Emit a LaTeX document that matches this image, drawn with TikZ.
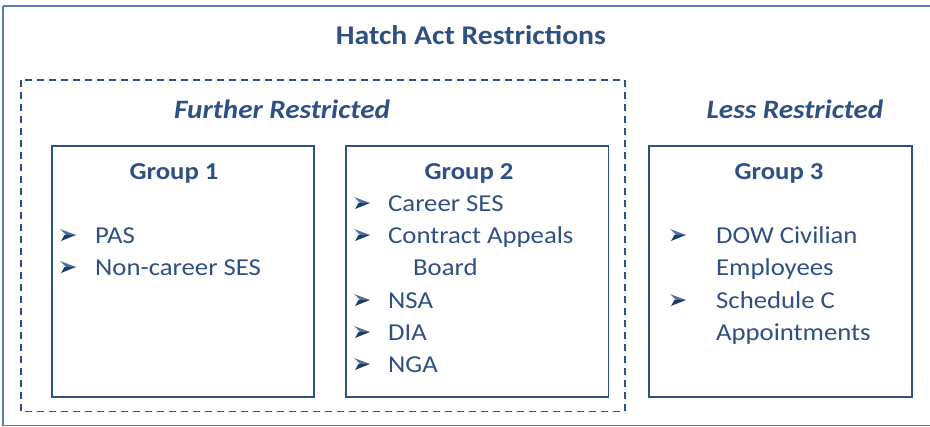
\documentclass[tikz,border=0pt]{standalone}
\usepackage{fontspec}
\setmainfont{Carlito}[FakeStretch=1.1]
\definecolor{navy}{HTML}{2F5082}
\definecolor{lightnavy}{HTML}{5A7BAE}
\definecolor{bltlight}{HTML}{4F73A8}
\definecolor{bltdark}{HTML}{1F3D6B}
\begin{document}
\begin{tikzpicture}[x=1pt,y=-1pt,
  grp/.style={draw=navy,line width=1.6pt,inner sep=0pt},
  item/.style={anchor=base west,inner sep=0pt,text=navy,font=\fontsize{24.3}{28}\selectfont},
  gtitle/.style={anchor=base,inner sep=0pt,text=navy,font=\bfseries\fontsize{24.3}{28}\selectfont},
  sub/.style={anchor=base,inner sep=0pt,text=navy,font=\bfseries\itshape\fontsize{26.5}{30}\selectfont},
  arrowbullet/.pic={
    \fill[bltlight] (0,-15) -- (16,-9) -- (6,-9) -- cycle;
    \fill[bltdark] (6,-9) -- (16,-9) -- (1,-3) -- (4.5,-9) -- cycle;
  }]
\useasboundingbox (0,0) rectangle (930,427);
\clip (0,0) rectangle (930,427);
\draw[lightnavy,line width=1.2pt] (3,6) -- (940,6) (3,6) -- (3,425.5) -- (940,425.5);
\node[anchor=base,inner sep=0pt,text=navy,font=\bfseries\fontsize{27}{32}\selectfont] (title) at (471,44.3) {Hatch Act Restrictions};
\draw[navy,line width=1.4pt,dash pattern=on 7pt off 5pt] (21,80) rectangle (625,411.7);
\node[sub] (further) at (282,118.3) {Further Restricted};
\node[sub] (less) at (795,118.3) {Less Restricted};
\node[grp,minimum width=262,minimum height=251,anchor=north west] (g1) at (51,145) {};
\node[grp,minimum width=262.5,minimum height=251,anchor=north west] (g2) at (345,145) {};
\node[grp,minimum width=263,minimum height=251,anchor=north west] (g3) at (648,145) {};
\node[gtitle] (g1t) at (174,180) {Group 1};
\node[gtitle] (g2t) at (469,180) {Group 2};
\node[gtitle] (g3t) at (779,180) {Group 3};
% group 1
\pic at (60,244) {arrowbullet};
\node[item] (i11) at (95,244) {PAS};
\pic at (60,276) {arrowbullet};
\node[item] (i12) at (95,276) {Non-career SES};
% group 2
\pic at (354,212) {arrowbullet};
\node[item] (i21) at (388,212) {Career SES};
\pic at (354,244) {arrowbullet};
\node[item] (i22) at (388,244) {Contract Appeals};
\node[item] (i23) at (413,276) {Board};
\pic at (354,309) {arrowbullet};
\node[item] (i24) at (388,309) {NSA};
\pic at (354,341) {arrowbullet};
\node[item] (i25) at (388,341) {DIA};
\pic at (354,373) {arrowbullet};
\node[item] (i26) at (388,373) {NGA};
% group 3
\pic at (670,244) {arrowbullet};
\node[item] (i31) at (716,244) {DOW Civilian};
\node[item] (i32) at (716,276) {Employees};
\pic at (670,309) {arrowbullet};
\node[item] (i33) at (716,309) {Schedule C};
\node[item] (i34) at (716,341) {Appointments};
\end{tikzpicture}
\end{document}
